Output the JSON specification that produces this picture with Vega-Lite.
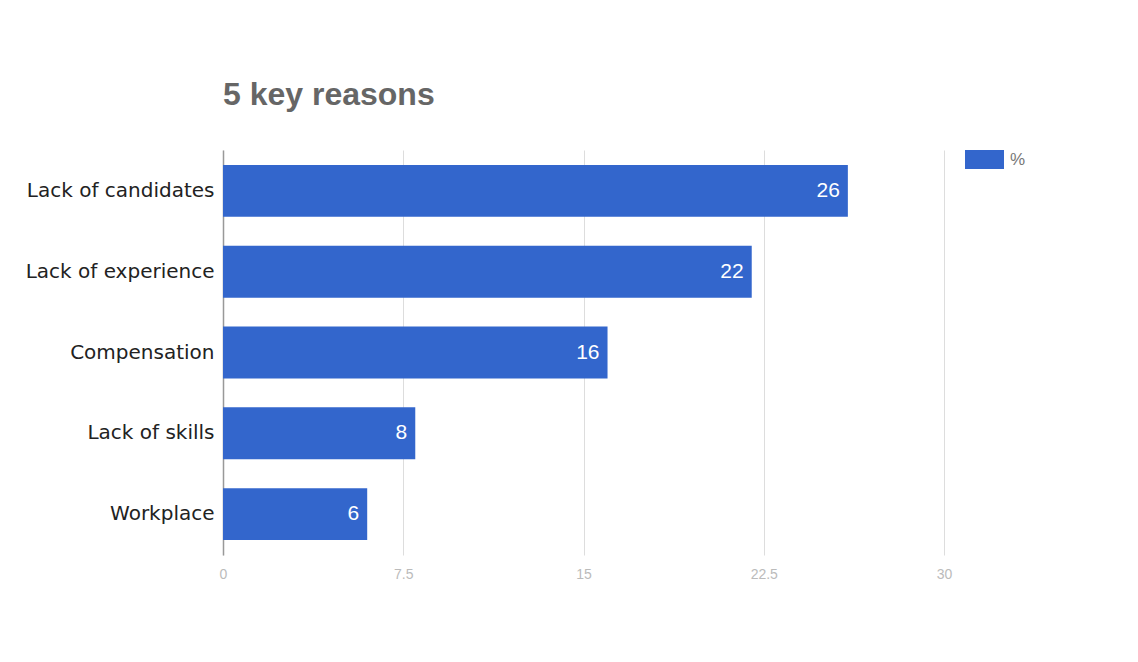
{
  "$schema": "https://vega.github.io/schema/vega-lite/v6.json",
  "autosize": "none",
  "width": 721,
  "height": 405,
  "padding": {"left": 223, "top": 150, "right": 194, "bottom": 107},
  "background": "white",
  "title": {
    "text": "5 key reasons",
    "anchor": "start",
    "frame": "group",
    "font": "Liberation Sans",
    "fontSize": 32,
    "fontWeight": "bold",
    "color": "#666666",
    "baseline": "bottom",
    "offset": -4
  },
  "data": {
    "values": [
      {"reason": "Lack of candidates", "value": 26, "series": "%"},
      {"reason": "Lack of experience", "value": 22, "series": "%"},
      {"reason": "Compensation", "value": 16, "series": "%"},
      {"reason": "Lack of skills", "value": 8, "series": "%"},
      {"reason": "Workplace", "value": 6, "series": "%"}
    ]
  },
  "encoding": {
    "y": {
      "field": "reason",
      "type": "nominal",
      "sort": null,
      "title": null,
      "scale": {"paddingInner": 0.358, "paddingOuter": 0.185},
      "axis": {
        "ticks": false,
        "labelPadding": 9,
        "labelLimit": 400,
        "labelFont": "DejaVu Sans",
        "labelFontSize": 20,
        "labelColor": "#222222",
        "domainColor": "#999999",
        "domainWidth": 1.5,
        "grid": false
      }
    },
    "x": {
      "field": "value",
      "type": "quantitative",
      "title": null,
      "scale": {"domain": [0, 30], "nice": false},
      "axis": {
        "values": [0, 7.5, 15, 22.5, 30],
        "format": ".1~f",
        "ticks": false,
        "domain": false,
        "grid": true,
        "gridColor": "#dddddd",
        "labelFont": "Liberation Sans",
        "labelFontSize": 14,
        "labelColor": "#bbbbbb",
        "labelPadding": 12,
        "labelFlush": false
      }
    }
  },
  "layer": [
    {
      "mark": {"type": "bar", "color": "#3366cc"},
      "encoding": {
        "color": {
          "field": "series",
          "type": "nominal",
          "scale": {"range": ["#3366cc"]},
          "legend": {
            "title": null,
            "orient": "none",
            "legendX": 742,
            "legendY": -10,
            "symbolType": "M-1,-0.487H1V0.487H-1Z",
            "symbolSize": 1521,
            "symbolStrokeWidth": 0,
            "symbolFillColor": "#3366cc",
            "symbolOpacity": 1,
            "labelFont": "Liberation Sans",
            "labelFontSize": 17,
            "labelColor": "#777777",
            "labelOffset": 6
          }
        }
      }
    },
    {
      "mark": {
        "type": "text",
        "align": "right",
        "dx": -8,
        "color": "white",
        "font": "Liberation Sans",
        "fontSize": 21
      },
      "encoding": {
        "text": {"field": "value", "type": "quantitative"}
      }
    }
  ],
  "config": {"view": {"stroke": null}}
}
